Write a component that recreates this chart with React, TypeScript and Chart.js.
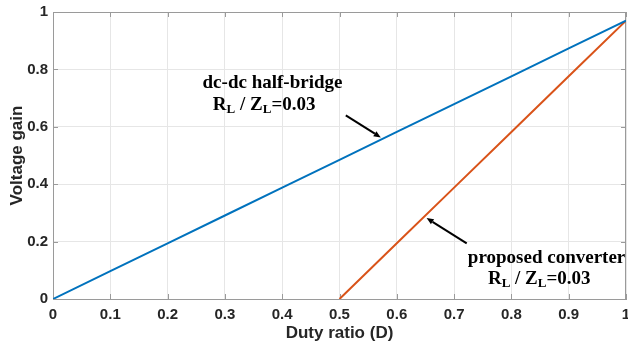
import React, { useEffect, useRef } from 'react';
import { Chart, registerables } from 'chart.js';

Chart.register(...registerables);

// Duty ratio D and voltage gain for each converter
const dutyHalfBridge = [0, 0.1, 0.2, 0.3, 0.4, 0.5, 0.6, 0.7, 0.8, 0.9, 1.0];
const gainHalfBridge = [0, 0.097, 0.194, 0.291, 0.388, 0.485, 0.582, 0.679, 0.776, 0.873, 0.97];
const dutyProposed = [0.5, 0.6, 0.7, 0.8, 0.9, 1.0];
const gainProposed = [0, 0.194, 0.388, 0.582, 0.776, 0.97];

const xTickValues = [0, 0.1, 0.2, 0.3, 0.4, 0.5, 0.6, 0.7, 0.8, 0.9, 1];
const xTickLabels = ['0', '0.1', '0.2', '0.3', '0.4', '0.5', '0.6', '0.7', '0.8', '0.9', '1'];
const yTickValues = [0, 0.2, 0.4, 0.6, 0.8, 1];
const yTickLabels = ['0', '0.2', '0.4', '0.6', '0.8', '1'];

const xTitle = 'Duty ratio (D)';
const yTitle = 'Voltage gain';

// Annotations (data units)
const labelHalfBridge = 'dc-dc half-bridge';
const labelProposed = 'proposed converter';
const annHalfBridge = { x: 0.261, y1: 0.736, x2: 0.279, y2: 0.657 };
const annProposed = { x: 0.724, y1: 0.126, x2: 0.759, y2: 0.052 };
const arrowHalfBridge = [0.511, 0.64, 0.572, 0.563];
const arrowProposed = [0.722, 0.194, 0.652, 0.282];

const BLUE = '#0072BD';
const ORANGE = '#D95319';
const AXIS = '#9a9a9a';
const GRID = '#e6e6e6';
const TEXT = '#262626';

function drawRatio(ctx: CanvasRenderingContext2D, x: number, y: number, size: number) {
  const big = `bold ${size}px "Liberation Serif", "Times New Roman", serif`;
  const small = `bold ${Math.round(size * 0.68)}px "Liberation Serif", "Times New Roman", serif`;
  const parts: [string, boolean][] = [['R', false], ['L', true], [' / Z', false], ['L', true], ['=0.03', false]];
  let cx = x;
  ctx.textAlign = 'left';
  ctx.textBaseline = 'alphabetic';
  for (const [t, sub] of parts) {
    ctx.font = sub ? small : big;
    ctx.fillText(t, cx, sub ? y + 3 : y);
    cx += ctx.measureText(t).width;
  }
}

function drawArrow(ctx: CanvasRenderingContext2D, x1: number, y1: number, x2: number, y2: number) {
  ctx.save();
  ctx.strokeStyle = '#000';
  ctx.fillStyle = '#000';
  ctx.lineWidth = 2;
  const ang = Math.atan2(y2 - y1, x2 - x1);
  const head = 7;
  const hx = x2 - head * Math.cos(ang);
  const hy = y2 - head * Math.sin(ang);
  ctx.beginPath();
  ctx.moveTo(x1, y1);
  ctx.lineTo(hx, hy);
  ctx.stroke();
  ctx.beginPath();
  ctx.moveTo(x2, y2);
  ctx.lineTo(hx + 3 * Math.cos(ang + Math.PI / 2), hy + 3 * Math.sin(ang + Math.PI / 2));
  ctx.lineTo(hx + 3 * Math.cos(ang - Math.PI / 2), hy + 3 * Math.sin(ang - Math.PI / 2));
  ctx.closePath();
  ctx.fill();
  ctx.restore();
}

const framePlugin = {
  id: 'frame',
  beforeDatasetsDraw(chart: any) {
    const { ctx, chartArea: a, scales } = chart;
    ctx.save();
    ctx.strokeStyle = AXIS;
    ctx.lineWidth = 1;
    // top and right border lines
    ctx.beginPath();
    ctx.moveTo(a.left, Math.round(a.top) + 0.5);
    ctx.lineTo(a.right, Math.round(a.top) + 0.5);
    ctx.moveTo(Math.round(a.right) - 0.5, a.top);
    ctx.lineTo(Math.round(a.right) - 0.5, a.bottom);
    ctx.stroke();
    // inward ticks
    const tl = 5;
    ctx.beginPath();
    for (const v of xTickValues) {
      const px = Math.round(scales.x.getPixelForValue(v)) + 0.5;
      ctx.moveTo(px, a.bottom);
      ctx.lineTo(px, a.bottom - tl);
      ctx.moveTo(px, a.top);
      ctx.lineTo(px, a.top + tl);
    }
    for (const v of yTickValues) {
      const py = Math.round(scales.y.getPixelForValue(v)) + 0.5;
      ctx.moveTo(a.left, py);
      ctx.lineTo(a.left + tl, py);
      ctx.moveTo(a.right, py);
      ctx.lineTo(a.right - tl, py);
    }
    ctx.stroke();
    ctx.restore();
  },
  afterDatasetsDraw(chart: any) {
    const { ctx, scales } = chart;
    const X = (v: number) => scales.x.getPixelForValue(v);
    const Y = (v: number) => scales.y.getPixelForValue(v);
    ctx.save();
    ctx.fillStyle = '#000';
    ctx.font = 'bold 19px "Liberation Serif", "Times New Roman", serif';
    ctx.textAlign = 'left';
    ctx.textBaseline = 'alphabetic';
    ctx.fillText(labelHalfBridge, X(annHalfBridge.x), Y(annHalfBridge.y1));
    ctx.fillText(labelProposed, X(annProposed.x), Y(annProposed.y1));
    drawRatio(ctx, X(annHalfBridge.x2), Y(annHalfBridge.y2), 19);
    drawRatio(ctx, X(annProposed.x2), Y(annProposed.y2), 19);
    drawArrow(ctx, X(arrowHalfBridge[0]), Y(arrowHalfBridge[1]), X(arrowHalfBridge[2]), Y(arrowHalfBridge[3]));
    drawArrow(ctx, X(arrowProposed[0]), Y(arrowProposed[1]), X(arrowProposed[2]), Y(arrowProposed[3]));
    ctx.restore();
  },
};

export default function App() {
  const ref = useRef<HTMLCanvasElement>(null);
  useEffect(() => {
    document.body.style.margin = '0';
    document.body.style.overflow = 'hidden';
    const canvas = ref.current!;
    const chart = new Chart(canvas, {
      type: 'line',
      data: {
        datasets: [
          {
            label: 'dc-dc half-bridge',
            data: dutyHalfBridge.map((d, i) => ({ x: d, y: gainHalfBridge[i] })),
            borderColor: BLUE,
            borderWidth: 2,
            pointRadius: 0,
            fill: false,
          },
          {
            label: 'proposed converter',
            data: dutyProposed.map((d, i) => ({ x: d, y: gainProposed[i] })),
            borderColor: ORANGE,
            borderWidth: 2,
            pointRadius: 0,
            fill: false,
          },
        ],
      },
      options: {
        animation: false,
        responsive: false,
        maintainAspectRatio: false,
        layout: { padding: { top: 12, right: 2, left: 0, bottom: 0 } },
        plugins: { legend: { display: false }, tooltip: { enabled: false } },
        scales: {
          x: {
            type: 'linear',
            min: 0,
            max: 1,
            afterBuildTicks: (s: any) => { s.ticks = xTickValues.map((v) => ({ value: v })); },
            afterFit: (s: any) => { s.height = 51; s.paddingLeft = 0; s.paddingRight = 0; },
            ticks: {
              callback: (v: any) => xTickLabels[xTickValues.indexOf(Number(v))] ?? '',
              color: TEXT,
              font: { family: '"Liberation Sans", Arial, sans-serif', size: 15, weight: 'bold' },
              padding: 7,
              maxRotation: 0,
              autoSkip: false,
            },
            grid: { color: GRID, drawTicks: false },
            border: { color: AXIS },
            title: {
              display: true,
              text: xTitle,
              color: TEXT,
              font: { family: '"Liberation Sans", Arial, sans-serif', size: 17, weight: 'bold' },
              padding: { top: 0, bottom: 6 },
            },
          },
          y: {
            type: 'linear',
            min: 0,
            max: 1,
            afterBuildTicks: (s: any) => { s.ticks = yTickValues.map((v) => ({ value: v })); },
            afterFit: (s: any) => { s.width = 53; s.paddingTop = 0; s.paddingBottom = 0; },
            ticks: {
              callback: (v: any) => yTickLabels[yTickValues.indexOf(Number(v))] ?? '',
              color: TEXT,
              font: { family: '"Liberation Sans", Arial, sans-serif', size: 15, weight: 'bold' },
              padding: 5,
              autoSkip: false,
            },
            grid: { color: GRID, drawTicks: false },
            border: { color: AXIS },
            title: {
              display: true,
              text: yTitle,
              color: TEXT,
              font: { family: '"Liberation Sans", Arial, sans-serif', size: 17, weight: 'bold' },
              padding: { top: 7, bottom: 0 },
            },
          },
        },
      },
      plugins: [framePlugin],
    } as any);
    return () => chart.destroy();
  }, []);
  return <canvas ref={ref} width={628} height={350} style={{ display: 'block' }} />;
}
